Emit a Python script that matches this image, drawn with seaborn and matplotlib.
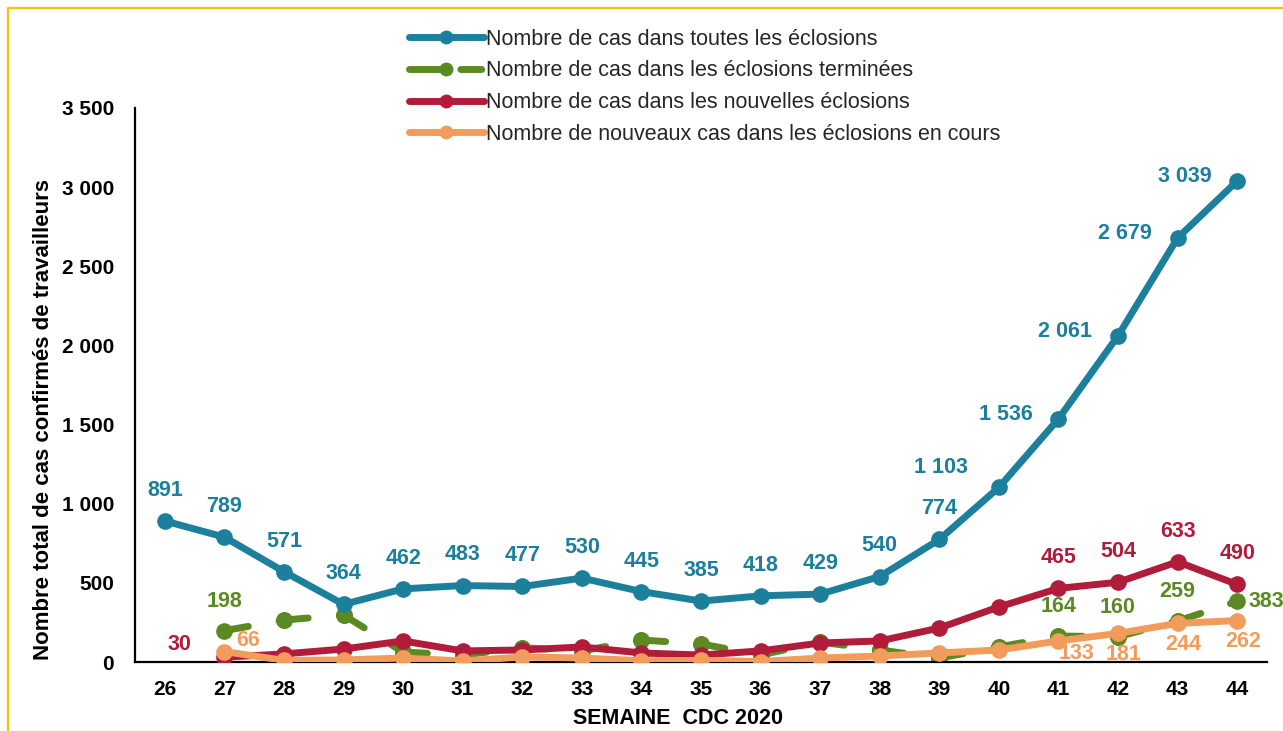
import matplotlib
matplotlib.use("Agg")
import matplotlib.pyplot as plt
import seaborn as sns
import pandas as pd
from matplotlib.lines import Line2D

weeks = [26, 27, 28, 29, 30, 31, 32, 33, 34, 35, 36, 37, 38, 39, 40, 41, 42, 43, 44]
toutes = [891, 789, 571, 364, 462, 483, 477, 530, 445, 385, 418, 429, 540, 774, 1103, 1536, 2061, 2679, 3039]
weeks_b = [27, 28, 29, 30, 31, 32, 33, 34, 35, 36, 37, 38, 39, 40, 41, 42, 43, 44]
terminees = [198, 265, 297, 63, 44, 90, 70, 139, 114, 44, 126, 76, 25, 95, 164, 160, 259, 383]
nouvelles = [30, 51, 82, 133, 70, 76, 95, 57, 44, 70, 120, 133, 215, 348, 465, 504, 633, 490]
en_cours = [66, 10, 13, 25, 6, 32, 25, 8, 10, 3, 25, 38, 57, 76, 133, 181, 244, 262]

names = ["Nombre de cas dans toutes les éclosions",
         "Nombre de cas dans les éclosions terminées",
         "Nombre de cas dans les nouvelles éclosions",
         "Nombre de nouveaux cas dans les éclosions en cours"]
colors = ["#1C7F9B", "#5B8A23", "#B11C3B", "#F29C5C"]

sns.set_theme(style="white")
plt.rcParams['font.family'] = ['Liberation Sans', 'DejaVu Sans']

fig = plt.figure(figsize=(12.83, 7.31), dpi=100)
ax = fig.add_axes([135/1283, 1-662/731, (1267-135)/1283, (662-108)/731])

df_a = pd.DataFrame({"semaine": weeks, "val": toutes})
df_n = pd.DataFrame({"semaine": weeks_b, "val": nouvelles})
df_c = pd.DataFrame({"semaine": weeks_b, "val": en_cours})
# dashed series: one segment per pair of consecutive weeks so the dash pattern restarts at each point
seg_rows = []
for i in range(len(weeks_b) - 1):
    seg_rows.append({"seg": i, "semaine": weeks_b[i], "val": terminees[i]})
    seg_rows.append({"seg": i, "semaine": weeks_b[i + 1], "val": terminees[i + 1]})
df_t = pd.DataFrame(seg_rows)

lw = 5.0
ms = 12
n_before = len(ax.lines)
sns.lineplot(data=df_t, x="semaine", y="val", units="seg", estimator=None, ax=ax,
             color=colors[1], lw=lw, marker="o", markersize=ms, markeredgewidth=0,
             zorder=2, sort=False)
for ln in ax.lines[n_before:]:
    ln.set_dash_capstyle("round")
    ln.set_dashes([3.5, 4.5])
sns.lineplot(data=df_a, x="semaine", y="val", ax=ax, color=colors[0], lw=lw,
             marker="o", markersize=ms, markeredgewidth=0, zorder=3)
sns.lineplot(data=df_n, x="semaine", y="val", ax=ax, color=colors[2], lw=lw,
             marker="o", markersize=ms, markeredgewidth=0, zorder=4)
sns.lineplot(data=df_c, x="semaine", y="val", ax=ax, color=colors[3], lw=lw,
             marker="o", markersize=ms, markeredgewidth=0, zorder=5)

def fmt(v):
    return f"{v:,}".replace(",", " ")

lab_kw = dict(textcoords="offset points", fontsize=15.5, fontweight="bold",
              ha="center", va="center", zorder=6)
# blue labels
for w, v in zip(weeks, toutes):
    if w >= 41:
        off = (-38, 3)
    elif w == 40:
        off = (-42, 14)
    else:
        off = (0, 22)
    ax.annotate(fmt(v), (w, v), xytext=off, color=colors[0], **lab_kw)
# red labels
for w, v in zip(weeks_b, nouvelles):
    if w == 27:
        ax.annotate(fmt(v), (w, v), xytext=(-32, 9), color=colors[2], **lab_kw)
    elif w >= 41:
        ax.annotate(fmt(v), (w, v), xytext=(0, 22), color=colors[2], **lab_kw)
# green labels
for w, v in zip(weeks_b, terminees):
    if w == 27 or 41 <= w <= 43:
        ax.annotate(fmt(v), (w, v), xytext=(0, 21), color=colors[1], **lab_kw)
    elif w == 44:
        ax.annotate(fmt(v), (w, v), xytext=(21, 0), color=colors[1], **lab_kw)
# orange labels
for w, v in zip(weeks_b, en_cours):
    if w == 27:
        ax.annotate(fmt(v), (w, v), xytext=(17, 8), color=colors[3], **lab_kw)
    elif w == 41:
        ax.annotate(fmt(v), (w, v), xytext=(13, -9), color=colors[3], **lab_kw)
    elif w >= 42:
        ax.annotate(fmt(v), (w, v), xytext=(4, -15), color=colors[3], **lab_kw)

ax.set_xlim(25.5, 44.5)
ax.set_ylim(0, 3500)
ax.set_xticks(weeks)
ax.set_xticklabels([str(w) for w in weeks])
yt = list(range(0, 3501, 500))
ax.set_yticks(yt)
ax.set_yticklabels([fmt(v) for v in yt])
ax.tick_params(axis="both", length=0, labelsize=15, labelcolor="black")
ax.tick_params(axis="x", pad=13)
ax.tick_params(axis="y", pad=15)
for lbl in ax.get_xticklabels() + ax.get_yticklabels():
    lbl.set_fontweight("bold")
for s in ["top", "right"]:
    ax.spines[s].set_visible(False)
for s in ["left", "bottom"]:
    ax.spines[s].set_color("black")
    ax.spines[s].set_linewidth(1.6)
ax.set_xlabel("SEMAINE  CDC 2020", fontsize=15.5, fontweight="bold", color="black")
ax.xaxis.set_label_coords((678-135)/1132, -(708-662)/554)
ax.set_ylabel("Nombre total de cas confirmés de travailleurs", fontsize=16,
              fontweight="bold", color="black")
ax.yaxis.set_label_coords(-(135-54)/1132, (662-420)/554)
ax.grid(False)
ax.patch.set_alpha(0)

handles = [
    Line2D([], [], color=colors[0], lw=lw, marker="o", markersize=9, solid_capstyle="round"),
    Line2D([], [], color=colors[1], lw=lw, marker="o", markersize=9, dashes=[4.8, 2.6, 3, 6],
           dash_capstyle="round"),
    Line2D([], [], color=colors[2], lw=lw, marker="o", markersize=9, solid_capstyle="round"),
    Line2D([], [], color=colors[3], lw=lw, marker="o", markersize=9, solid_capstyle="round"),
]
fig.legend(handles, names, loc="upper left", bbox_to_anchor=(400/1283, 1-20/731),
           frameon=False, fontsize=15.5, handlelength=3.5, handletextpad=0.1,
           labelspacing=0.5, numpoints=1, borderaxespad=0)

# yellow frame (top and left edges)
fig.add_artist(Line2D([8/1283, 8/1283, 1.0], [0.0, 1-8/731, 1-8/731],
                      transform=fig.transFigure, color="#F7C300", lw=1.6))

fig.savefig("out.png", dpi=100)
